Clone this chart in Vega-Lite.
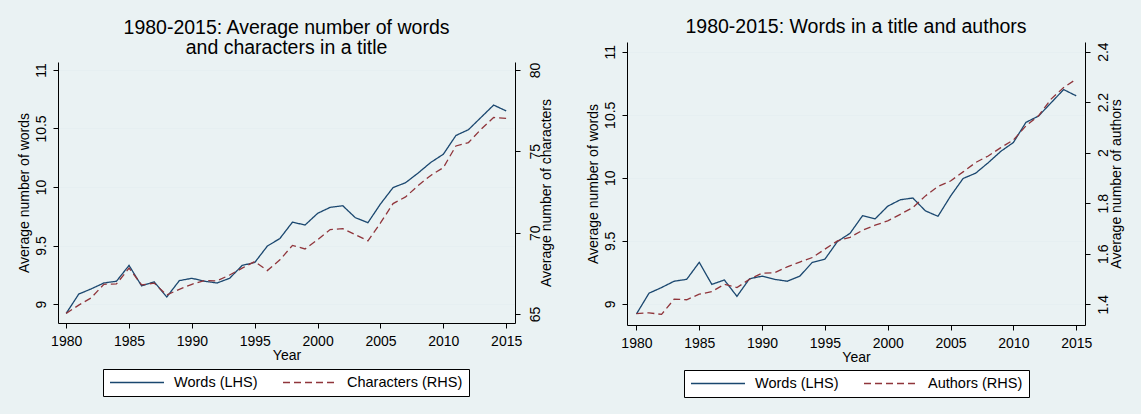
{
  "$schema": "https://vega.github.io/schema/vega-lite/v6.json",
  "background": "#eaf2f3",
  "padding": {"left": 17, "top": 16, "right": 18, "bottom": 18},
  "config": {
    "font": "Liberation Sans",
    "view": {"stroke": null},
    "axis": {"labelFont": "Liberation Sans", "titleFont": "Liberation Sans", "labelFontSize": 14, "titleFontSize": 14, "labelColor": "#000", "titleColor": "#000", "titleFontWeight": "normal", "domainColor": "#000", "tickColor": "#000", "tickSize": 5, "grid": false},
    "title": {"font": "Liberation Sans", "fontSize": 19.5, "fontWeight": "normal", "color": "#000", "anchor": "middle"},
    "legend": {"orient": "none", "direction": "horizontal", "fillColor": "#ffffff", "strokeColor": "#000", "padding": 6, "symbolType": "stroke", "symbolSize": 2916, "symbolStrokeWidth": 1.3, "clipHeight": 15, "labelFontSize": 14.5, "labelFont": "Liberation Sans", "labelColor": "#000", "labelOffset": 9, "columnPadding": 24}
  },
  "datasets": {
    "words": [
      {"year": 1980, "series": "Words (LHS)", "value": 8.92},
      {"year": 1981, "series": "Words (LHS)", "value": 9.085},
      {"year": 1982, "series": "Words (LHS)", "value": 9.13},
      {"year": 1983, "series": "Words (LHS)", "value": 9.18},
      {"year": 1984, "series": "Words (LHS)", "value": 9.195},
      {"year": 1985, "series": "Words (LHS)", "value": 9.33},
      {"year": 1986, "series": "Words (LHS)", "value": 9.155},
      {"year": 1987, "series": "Words (LHS)", "value": 9.19},
      {"year": 1988, "series": "Words (LHS)", "value": 9.06},
      {"year": 1989, "series": "Words (LHS)", "value": 9.2},
      {"year": 1990, "series": "Words (LHS)", "value": 9.22},
      {"year": 1991, "series": "Words (LHS)", "value": 9.195},
      {"year": 1992, "series": "Words (LHS)", "value": 9.18},
      {"year": 1993, "series": "Words (LHS)", "value": 9.22},
      {"year": 1994, "series": "Words (LHS)", "value": 9.33},
      {"year": 1995, "series": "Words (LHS)", "value": 9.355},
      {"year": 1996, "series": "Words (LHS)", "value": 9.495},
      {"year": 1997, "series": "Words (LHS)", "value": 9.56},
      {"year": 1998, "series": "Words (LHS)", "value": 9.7},
      {"year": 1999, "series": "Words (LHS)", "value": 9.675},
      {"year": 2000, "series": "Words (LHS)", "value": 9.775},
      {"year": 2001, "series": "Words (LHS)", "value": 9.826},
      {"year": 2002, "series": "Words (LHS)", "value": 9.84},
      {"year": 2003, "series": "Words (LHS)", "value": 9.738},
      {"year": 2004, "series": "Words (LHS)", "value": 9.695},
      {"year": 2005, "series": "Words (LHS)", "value": 9.855},
      {"year": 2006, "series": "Words (LHS)", "value": 9.995},
      {"year": 2007, "series": "Words (LHS)", "value": 10.037},
      {"year": 2008, "series": "Words (LHS)", "value": 10.12},
      {"year": 2009, "series": "Words (LHS)", "value": 10.21},
      {"year": 2010, "series": "Words (LHS)", "value": 10.28},
      {"year": 2011, "series": "Words (LHS)", "value": 10.44},
      {"year": 2012, "series": "Words (LHS)", "value": 10.49},
      {"year": 2013, "series": "Words (LHS)", "value": 10.595},
      {"year": 2014, "series": "Words (LHS)", "value": 10.7},
      {"year": 2015, "series": "Words (LHS)", "value": 10.65}
    ],
    "characters": [
      {"year": 1980, "series": "Characters (RHS)", "value": 65.04},
      {"year": 1981, "series": "Characters (RHS)", "value": 65.55},
      {"year": 1982, "series": "Characters (RHS)", "value": 66.0},
      {"year": 1983, "series": "Characters (RHS)", "value": 66.83},
      {"year": 1984, "series": "Characters (RHS)", "value": 66.85},
      {"year": 1985, "series": "Characters (RHS)", "value": 67.82},
      {"year": 1986, "series": "Characters (RHS)", "value": 66.79},
      {"year": 1987, "series": "Characters (RHS)", "value": 66.9},
      {"year": 1988, "series": "Characters (RHS)", "value": 66.17},
      {"year": 1989, "series": "Characters (RHS)", "value": 66.52},
      {"year": 1990, "series": "Characters (RHS)", "value": 66.83},
      {"year": 1991, "series": "Characters (RHS)", "value": 67.06},
      {"year": 1992, "series": "Characters (RHS)", "value": 67.04},
      {"year": 1993, "series": "Characters (RHS)", "value": 67.4},
      {"year": 1994, "series": "Characters (RHS)", "value": 67.82},
      {"year": 1995, "series": "Characters (RHS)", "value": 68.23},
      {"year": 1996, "series": "Characters (RHS)", "value": 67.67},
      {"year": 1997, "series": "Characters (RHS)", "value": 68.33},
      {"year": 1998, "series": "Characters (RHS)", "value": 69.22},
      {"year": 1999, "series": "Characters (RHS)", "value": 69.0},
      {"year": 2000, "series": "Characters (RHS)", "value": 69.57},
      {"year": 2001, "series": "Characters (RHS)", "value": 70.19},
      {"year": 2002, "series": "Characters (RHS)", "value": 70.25},
      {"year": 2003, "series": "Characters (RHS)", "value": 69.88},
      {"year": 2004, "series": "Characters (RHS)", "value": 69.5},
      {"year": 2005, "series": "Characters (RHS)", "value": 70.6},
      {"year": 2006, "series": "Characters (RHS)", "value": 71.79},
      {"year": 2007, "series": "Characters (RHS)", "value": 72.2},
      {"year": 2008, "series": "Characters (RHS)", "value": 72.9},
      {"year": 2009, "series": "Characters (RHS)", "value": 73.52},
      {"year": 2010, "series": "Characters (RHS)", "value": 74.0},
      {"year": 2011, "series": "Characters (RHS)", "value": 75.33},
      {"year": 2012, "series": "Characters (RHS)", "value": 75.54},
      {"year": 2013, "series": "Characters (RHS)", "value": 76.36},
      {"year": 2014, "series": "Characters (RHS)", "value": 77.08},
      {"year": 2015, "series": "Characters (RHS)", "value": 77.02}
    ],
    "authors": [
      {"year": 1980, "series": "Authors (RHS)", "value": 1.363},
      {"year": 1981, "series": "Authors (RHS)", "value": 1.366},
      {"year": 1982, "series": "Authors (RHS)", "value": 1.36},
      {"year": 1983, "series": "Authors (RHS)", "value": 1.42},
      {"year": 1984, "series": "Authors (RHS)", "value": 1.418},
      {"year": 1985, "series": "Authors (RHS)", "value": 1.44},
      {"year": 1986, "series": "Authors (RHS)", "value": 1.45},
      {"year": 1987, "series": "Authors (RHS)", "value": 1.479},
      {"year": 1988, "series": "Authors (RHS)", "value": 1.466},
      {"year": 1989, "series": "Authors (RHS)", "value": 1.499},
      {"year": 1990, "series": "Authors (RHS)", "value": 1.523},
      {"year": 1991, "series": "Authors (RHS)", "value": 1.525},
      {"year": 1992, "series": "Authors (RHS)", "value": 1.548},
      {"year": 1993, "series": "Authors (RHS)", "value": 1.567},
      {"year": 1994, "series": "Authors (RHS)", "value": 1.585},
      {"year": 1995, "series": "Authors (RHS)", "value": 1.618},
      {"year": 1996, "series": "Authors (RHS)", "value": 1.651},
      {"year": 1997, "series": "Authors (RHS)", "value": 1.665},
      {"year": 1998, "series": "Authors (RHS)", "value": 1.693},
      {"year": 1999, "series": "Authors (RHS)", "value": 1.713},
      {"year": 2000, "series": "Authors (RHS)", "value": 1.73},
      {"year": 2001, "series": "Authors (RHS)", "value": 1.756},
      {"year": 2002, "series": "Authors (RHS)", "value": 1.783},
      {"year": 2003, "series": "Authors (RHS)", "value": 1.829},
      {"year": 2004, "series": "Authors (RHS)", "value": 1.866},
      {"year": 2005, "series": "Authors (RHS)", "value": 1.888},
      {"year": 2006, "series": "Authors (RHS)", "value": 1.924},
      {"year": 2007, "series": "Authors (RHS)", "value": 1.961},
      {"year": 2008, "series": "Authors (RHS)", "value": 1.987},
      {"year": 2009, "series": "Authors (RHS)", "value": 2.02},
      {"year": 2010, "series": "Authors (RHS)", "value": 2.05},
      {"year": 2011, "series": "Authors (RHS)", "value": 2.106},
      {"year": 2012, "series": "Authors (RHS)", "value": 2.146},
      {"year": 2013, "series": "Authors (RHS)", "value": 2.212},
      {"year": 2014, "series": "Authors (RHS)", "value": 2.258},
      {"year": 2015, "series": "Authors (RHS)", "value": 2.291}
    ]
  },
  "spacing": 32,
  "resolve": {"scale": {"color": "independent", "strokeDash": "independent"}},
  "hconcat": [
    {
      "spacing": 0,
      "resolve": {"scale": {"color": "independent", "strokeDash": "independent"}},
      "vconcat": [
        {"width": 1, "height": 1, "data": {"values": []}, "mark": "point"},
        {
          "width": 457,
          "height": 261,
          "title": {"text": ["1980-2015: Average number of words", "and characters in a title"], "lineHeight": 20, "offset": 4},
          "encoding": {
            "x": {"field": "year", "type": "quantitative", "scale": {"domain": [1979.35, 2015.7], "nice": false, "zero": false},
                  "axis": {"title": "Year", "values": [1980, 1985, 1990, 1995, 2000, 2005, 2010, 2015], "format": "d", "labelPadding": 6, "titlePadding": 0}}
          },
          "layer": [
            {
              "data": {"name": "words"},
              "mark": {"type": "line", "strokeWidth": 1.3},
              "encoding": {
                "y": {"field": "value", "type": "quantitative", "scale": {"domain": [8.838, 11.068], "nice": false, "zero": false},
                      "axis": {"orient": "left", "title": "Average number of words", "values": [9, 9.5, 10, 10.5, 11], "format": "~g", "labelAngle": -90, "labelAlign": "center", "labelBaseline": "alphabetic", "labelPadding": 8, "titlePadding": 3, "grid": true, "gridColor": "#e6eff1", "gridWidth": 1}},
                "color": {"field": "series", "type": "nominal", "scale": {"domain": ["Words (LHS)", "Characters (RHS)"], "range": ["#1a476f", "#90353b"]}, "legend": {"title": null, "legendX": 45, "legendY": 307}},
                "strokeDash": {"field": "series", "type": "nominal", "scale": {"domain": ["Words (LHS)", "Characters (RHS)"], "range": [[1, 0], [7, 4]]}, "legend": {"title": null, "legendX": 45, "legendY": 307}}
              }
            },
            {
              "data": {"name": "characters"},
              "mark": {"type": "line", "strokeWidth": 1.3},
              "encoding": {
                "y": {"field": "value", "type": "quantitative", "scale": {"domain": [64.45, 80.49], "nice": false, "zero": false},
                      "axis": {"orient": "right", "title": "Average number of characters", "values": [65, 70, 75, 80], "format": "~g", "labelAngle": -90, "labelAlign": "center", "labelBaseline": "top", "labelPadding": 8, "titleAngle": 270, "titleBaseline": "top", "titlePadding": -3, "grid": false}},
                "color": {"field": "series", "type": "nominal"},
                "strokeDash": {"field": "series", "type": "nominal"}
              }
            }
          ],
          "resolve": {"scale": {"y": "independent"}}
        }
      ]
    },
    {
      "spacing": 0,
      "resolve": {"scale": {"color": "independent", "strokeDash": "independent"}},
      "vconcat": [
        {"width": 1, "height": 1, "data": {"values": []}, "mark": "point"},
        {
          "width": 458,
          "height": 283,
          "title": {"text": "1980-2015: Words in a title and authors", "offset": 4},
          "encoding": {
            "x": {"field": "year", "type": "quantitative", "scale": {"domain": [1979.25, 2015.7], "nice": false, "zero": false},
                  "axis": {"title": "Year", "values": [1980, 1985, 1990, 1995, 2000, 2005, 2010, 2015], "format": "d", "labelPadding": 6, "titlePadding": 0}}
          },
          "layer": [
            {
              "data": {"name": "words"},
              "mark": {"type": "line", "strokeWidth": 1.3},
              "encoding": {
                "y": {"field": "value", "type": "quantitative", "scale": {"domain": [8.833, 11.077], "nice": false, "zero": false},
                      "axis": {"orient": "left", "title": "Average number of words", "values": [9, 9.5, 10, 10.5, 11], "format": "~g", "labelAngle": -90, "labelAlign": "center", "labelBaseline": "alphabetic", "labelPadding": 8, "titlePadding": 3, "grid": true, "gridColor": "#e6eff1", "gridWidth": 1}},
                "color": {"field": "series", "type": "nominal", "scale": {"domain": ["Words (LHS)", "Authors (RHS)"], "range": ["#1a476f", "#90353b"]}, "legend": {"title": null, "legendX": 57, "legendY": 328}},
                "strokeDash": {"field": "series", "type": "nominal", "scale": {"domain": ["Words (LHS)", "Authors (RHS)"], "range": [[1, 0], [7, 4]]}, "legend": {"title": null, "legendX": 57, "legendY": 328}}
              }
            },
            {
              "data": {"name": "authors"},
              "mark": {"type": "line", "strokeWidth": 1.3},
              "encoding": {
                "y": {"field": "value", "type": "quantitative", "scale": {"domain": [1.318, 2.438], "nice": false, "zero": false},
                      "axis": {"orient": "right", "title": "Average number of authors", "values": [1.4, 1.6, 1.8, 2, 2.2, 2.4], "format": "~g", "labelAngle": -90, "labelAlign": "center", "labelBaseline": "top", "labelPadding": 6, "titleAngle": 270, "titleBaseline": "top", "titlePadding": -1, "grid": false}},
                "color": {"field": "series", "type": "nominal"},
                "strokeDash": {"field": "series", "type": "nominal"}
              }
            }
          ],
          "resolve": {"scale": {"y": "independent"}}
        }
      ]
    }
  ]
}
